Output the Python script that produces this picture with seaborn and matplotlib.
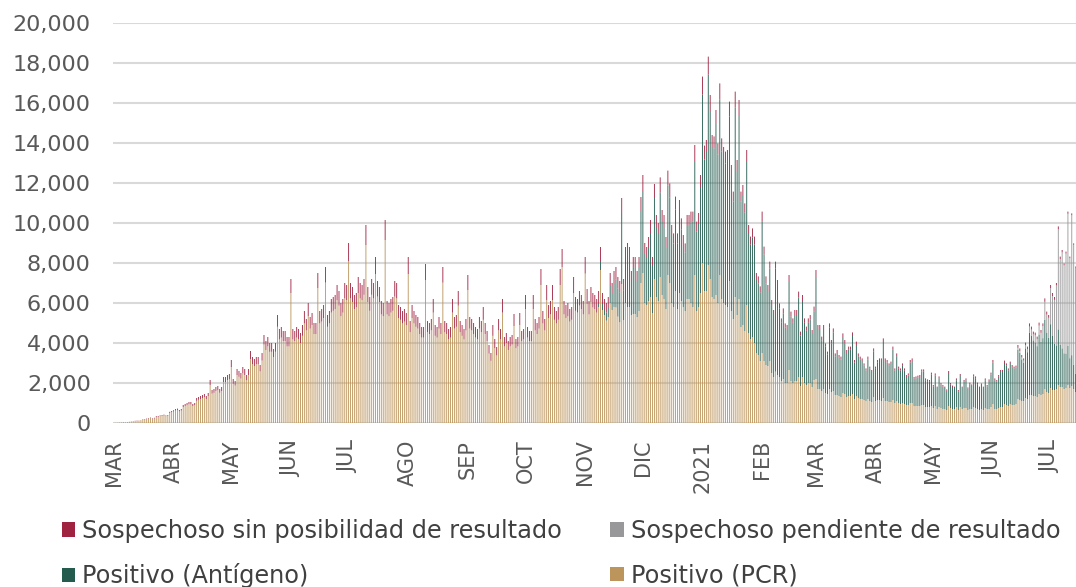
import numpy as np
import pandas as pd
import matplotlib
matplotlib.use("Agg")
import matplotlib.pyplot as plt
from matplotlib.patches import Patch
from matplotlib.ticker import FuncFormatter
import seaborn as sns

# Casos diarios por fecha de inicio de síntomas
FECHA_INICIO = "2020-03-01"
INICIO_ANTIGENO = "2020-11-08"
INICIO_PENDIENTE = "2021-06-13"

PCR = [
    10, 15, 20, 20, 25, 35, 30,
    40, 55, 65, 80, 100, 120, 110,
    130, 170, 180, 200, 230, 240, 220,
    230, 300, 310, 340, 360, 370, 340,
    360, 500, 540, 570, 620, 640, 580,
    620, 800, 850, 890, 940, 930, 850,
    890, 1110, 1160, 1200, 1250, 1290, 1200,
    1340, 1900, 1470, 1510, 1600, 1650, 1510,
    1600, 2050, 2050, 2140, 2180, 2800, 1960,
    1870, 2400, 2310, 2220, 2490, 2400, 2140,
    2400, 3200, 2940, 2850, 2940, 2940, 2580,
    3120, 3920, 3650, 3830, 3560, 3560, 3300,
    3560, 4810, 4180, 4270, 4100, 4100, 3830,
    3830, 6500, 4180, 4100, 4270, 4180, 4000,
    4360, 4980, 4630, 5340, 4720, 4900, 4450,
    4450, 6750, 4980, 5070, 5250, 7020, 4810,
    4980, 5520, 5610, 5700, 6140, 5870, 5340,
    5520, 6230, 6140, 8100, 6230, 6050, 5700,
    5790, 6500, 6230, 6140, 6410, 8900, 6050,
    5610, 6410, 6230, 7450, 6320, 6050, 5430,
    5340, 9150, 5430, 5340, 5520, 5610, 6320,
    6230, 5250, 5160, 4980, 5070, 4900, 7450,
    4540, 5250, 4980, 4810, 4720, 4450, 4270,
    4270, 7150, 4540, 4450, 4630, 5520, 4360,
    4270, 4720, 4450, 7020, 4540, 4450, 4180,
    4270, 5520, 4720, 4810, 5870, 4540, 4360,
    4180, 4630, 6650, 4720, 4630, 4450, 4270,
    4180, 4720, 4540, 5160, 4450, 4090, 3470,
    3110, 4360, 3740, 3380, 4630, 4180, 5520,
    3830, 4000, 3650, 3830, 3920, 4850, 3740,
    3830, 4900, 4090, 4180, 5700, 4270, 4090,
    4090, 5700, 4630, 4450, 4720, 6900, 4980,
    4630, 6140, 5250, 5430, 6140, 5160, 4980,
    5160, 6900, 7800, 5430, 5250, 5340, 5070,
    5160, 6500, 5610, 5520, 5870, 5700, 5430,
    7470, 5960, 5430, 6050, 5780, 5700, 5520,
    5800, 7650, 5650, 5400, 5120, 5300, 6000,
    5650, 5800, 5780, 5320, 5040, 6950, 5140,
    6000, 5800, 5800, 5400, 5450, 5450, 5300,
    5600, 7000, 7500, 6000, 5900, 6100, 6300,
    5500, 7200, 6300, 6100, 7300, 6400, 6200,
    5700, 7400, 7000, 6000, 5800, 6600, 5700,
    6500, 6100, 5800, 5600, 6200, 6200, 6000,
    5800, 7400, 5600, 5800, 6500, 8000, 6600,
    6600, 7900, 7200, 6300, 6200, 6400, 6000,
    7400, 6200, 6000, 5900, 5800, 7100, 5600,
    5200, 6300, 5400, 6200, 4800, 4900, 4600,
    5900, 4500, 4200, 4300, 4000, 3500, 3400,
    3100, 3500, 3100, 2900, 2850, 3100, 2500,
    2300, 2570, 2400, 2300, 2100, 2200, 2000,
    2000, 2650, 2100, 2000, 2100, 2100, 2300,
    1850, 2300, 2000, 1900, 2000, 2000, 1800,
    2150, 2200, 1700, 1700, 1600, 1700, 1500,
    1450, 1700, 1550, 1600, 1400, 1400, 1350,
    1300, 1500, 1450, 1300, 1350, 1350, 1450,
    1200, 1350, 1250, 1200, 1200, 1150, 1100,
    1200, 1100, 1050, 1300, 1100, 1150, 1150,
    1100, 1250, 1100, 1100, 1050, 1050, 1150,
    1000, 1100, 1000, 950, 1000, 950, 900,
    900, 1000, 1000, 850, 850, 850, 850,
    900, 900, 800, 800, 800, 850, 750,
    850, 700, 800, 750, 700, 700, 650,
    850, 750, 700, 700, 800, 650, 800,
    700, 750, 750, 650, 700, 700, 800,
    750, 700, 650, 700, 650, 750, 700,
    700, 800, 950, 700, 700, 750, 800,
    800, 950, 900, 850, 950, 900, 900,
    950, 1200, 1150, 1100, 1100, 1250, 1200,
    1400, 1400, 1350, 1350, 1300, 1450, 1400,
    1450, 1700, 1550, 1500, 1750, 1650, 1650,
    1700, 1900, 1800, 1800, 1700, 1750, 1900,
    1750, 1850, 1700, 1550,
]

SIN_RESULTADO = [
    0, 0, 0, 5, 5, 5, 5,
    5, 5, 10, 10, 10, 10, 10,
    10, 20, 20, 20, 20, 30, 20,
    30, 40, 40, 40, 40, 50, 40,
    40, 60, 60, 70, 80, 80, 70,
    80, 100, 100, 110, 110, 120, 100,
    110, 140, 140, 150, 150, 160, 150,
    160, 250, 180, 190, 200, 200, 190,
    200, 250, 250, 260, 270, 350, 240,
    230, 300, 290, 280, 310, 300, 260,
    300, 400, 360, 350, 360, 360, 320,
    380, 480, 450, 470, 440, 440, 400,
    440, 590, 520, 530, 500, 500, 470,
    470, 700, 520, 500, 530, 520, 500,
    540, 620, 570, 660, 580, 600, 550,
    550, 750, 620, 630, 650, 780, 590,
    620, 680, 690, 700, 760, 730, 660,
    680, 770, 760, 900, 770, 750, 700,
    710, 800, 770, 760, 790, 1000, 750,
    690, 790, 770, 850, 780, 750, 670,
    660, 1000, 670, 660, 680, 690, 780,
    770, 650, 640, 620, 630, 600, 850,
    560, 650, 620, 590, 580, 550, 530,
    530, 800, 560, 550, 570, 680, 540,
    530, 580, 550, 780, 560, 550, 520,
    530, 680, 580, 590, 730, 560, 540,
    520, 570, 750, 580, 570, 550, 530,
    520, 580, 560, 640, 550, 510, 430,
    390, 540, 460, 420, 570, 520, 680,
    470, 500, 450, 470, 480, 600, 460,
    470, 600, 510, 520, 700, 530, 510,
    510, 700, 570, 550, 580, 800, 620,
    570, 760, 650, 670, 760, 640, 620,
    640, 800, 900, 670, 650, 660, 630,
    640, 800, 690, 680, 730, 700, 670,
    830, 740, 670, 750, 720, 700, 680,
    600, 750, 550, 500, 480, 500, 600,
    550, 600, 620, 580, 560, 800, 560,
    600, 600, 600, 500, 550, 550, 500,
    500, 700, 800, 550, 500, 550, 650,
    450, 700, 600, 550, 750, 600, 600,
    500, 750, 700, 550, 500, 650, 500,
    600, 550, 500, 450, 550, 550, 550,
    500, 800, 500, 550, 650, 900, 700,
    600, 900, 800, 600, 600, 700, 550,
    800, 650, 600, 600, 600, 750, 550,
    500, 800, 600, 750, 500, 500, 450,
    600, 450, 400, 450, 400, 350, 350,
    300, 500, 400, 350, 300, 350, 250,
    250, 350, 300, 250, 220, 250, 200,
    200, 350, 250, 220, 250, 250, 300,
    200, 300, 220, 200, 220, 230, 200,
    250, 350, 200, 200, 180, 200, 160,
    150, 200, 170, 200, 150, 150, 140,
    140, 180, 170, 150, 160, 160, 180,
    130, 170, 150, 140, 130, 120, 110,
    140, 110, 100, 160, 110, 130, 130,
    130, 180, 130, 130, 120, 120, 160,
    110, 140, 110, 110, 120, 110, 100,
    100, 130, 130, 90, 90, 100, 100,
    110, 110, 90, 90, 90, 100, 80,
    100, 70, 90, 80, 80, 70, 70,
    100, 80, 70, 70, 90, 60, 100,
    70, 80, 90, 70, 80, 80, 100,
    90, 80, 70, 80, 70, 90, 80,
    80, 100, 130, 90, 80, 90, 100,
    100, 120, 110, 100, 120, 110, 100,
    100, 140, 130, 120, 110, 140, 130,
    160, 150, 140, 140, 130, 150, 140,
    140, 170, 150, 140, 160, 150, 140,
    120, 150, 120, 120, 100, 100, 110,
    80, 90, 70, 50,
]

ANTIGENO = [
    200, 400, 300, 300, 400, 500, 900,
    800, 1200, 1400, 1400, 1500, 3500, 1500,
    2200, 2600, 2400, 1700, 2300, 2300, 1800,
    2200, 3600, 4100, 2450, 2400, 2650, 3200,
    2350, 4050, 3500, 3350, 4230, 3650, 3600,
    3100, 4470, 4280, 3350, 3180, 4070, 3280,
    4050, 3580, 3100, 2930, 3650, 3650, 4020,
    4270, 5700, 3970, 4150, 5250, 8420, 6570,
    6950, 9520, 8400, 7500, 7530, 8550, 7430,
    8780, 7380, 7200, 7070, 7250, 8220, 6750,
    5870, 9470, 7150, 9200, 6270, 6500, 5930,
    7150, 4950, 4720, 4980, 4920, 3650, 3580,
    3430, 6570, 5320, 4080, 3750, 4620, 3400,
    3100, 5150, 4450, 3430, 2910, 3280, 2780,
    2700, 4400, 3220, 3010, 3300, 3300, 3970,
    2520, 3800, 3010, 2720, 3010, 3170, 2650,
    3420, 5100, 3000, 3000, 2540, 3000, 2320,
    1970, 3080, 2430, 2930, 1930, 2100, 1910,
    1880, 2800, 2530, 2200, 2310, 2310, 2900,
    1820, 2550, 2080, 1980, 1900, 1710, 1520,
    1980, 1610, 1500, 2270, 1610, 1870, 1950,
    2000, 2800, 2000, 1920, 1810, 1900, 2510,
    1620, 2240, 1710, 1670, 1860, 1670, 1400,
    1480, 2020, 2100, 1360, 1390, 1420, 1450,
    1670, 1670, 1340, 1290, 1260, 1570, 1070,
    1530, 1050, 1440, 1170, 1120, 1050, 960,
    1650, 1170, 1100, 1050, 1340, 940, 1550,
    1050, 1320, 1390, 1060, 1240, 1150, 1530,
    1490, 1240, 1100, 1200, 1100, 1390, 1120,
    1400, 1620, 2070, 1440, 1370, 1560, 1750,
    1750, 2050, 1970, 1780, 2000, 1890, 1820,
    1820, 2460, 2350, 2080, 1920, 2480, 2340,
    3120, 2970, 2780, 2680, 2540, 2970, 2660,
    2790, 3460, 2970, 2760, 3190, 2700, 2310,
    2180, 2780, 2100, 1930, 1780, 1720, 1960,
    1490, 1540, 1210, 920,
]

PENDIENTE = [
    0, 100, 100, 100, 100, 150, 150,
    300, 300, 300, 350, 350, 450, 450,
    600, 900, 900, 1000, 1800, 2000, 2200,
    3000, 5000, 4300, 4800, 4400, 5000, 6600,
    5000, 7000, 6000, 5300,
]

MESES = ["MAR", "ABR", "MAY", "JUN", "JUL", "AGO", "SEP", "OCT", "NOV",
         "DIC", "2021", "FEB", "MAR", "ABR", "MAY", "JUN", "JUL"]

SERIES = ["Sospechoso sin posibilidad de resultado", "Sospechoso pendiente de resultado",
          "Positivo (Antígeno)", "Positivo (PCR)"]
COLORES = ["#9F2241", "#98989A", "#235B4E", "#BC955C"]

TAMANHO_TICKS_Y = 16
TAMANHO_TICKS_X = 15
TAMANHO_LEYENDA = 17.3
GRIS_TEXTO = "#595959"


def alinear(valores, inicio, fechas):
    """Coloca una serie corta en el calendario completo, con ceros antes de su inicio."""
    arr = np.zeros(len(fechas))
    desfase = (pd.Timestamp(inicio) - fechas[0]).days
    arr[desfase:desfase + len(valores)] = valores
    return arr


def armar_tabla():
    fechas = pd.date_range(FECHA_INICIO, periods=len(PCR), freq="D")
    assert len(SIN_RESULTADO) == len(PCR)
    valores = {
        SERIES[0]: np.array(SIN_RESULTADO, dtype=float),
        SERIES[1]: alinear(PENDIENTE, INICIO_PENDIENTE, fechas),
        SERIES[2]: alinear(ANTIGENO, INICIO_ANTIGENO, fechas),
        SERIES[3]: np.array(PCR, dtype=float),
    }
    partes = []
    for nombre, casos in valores.items():
        partes.append(pd.DataFrame({"dia": np.arange(len(fechas)), "casos": casos, "serie": nombre}))
    return fechas, pd.concat(partes, ignore_index=True)


def main():
    fechas, df = armar_tabla()

    sns.set_theme(style="white")
    plt.rcParams["font.family"] = ["DejaVu Sans"]

    fig = plt.figure(figsize=(10.76, 5.87), dpi=100)
    ax = fig.add_axes([113 / 1076, (587 - 423) / 587, 963 / 1076, 400 / 587])

    sns.histplot(data=df, x="dia", weights="casos", hue="serie", hue_order=SERIES,
                 palette=COLORES, multiple="stack", discrete=True, shrink=0.45,
                 linewidth=0, alpha=1, legend=False, ax=ax)
    # barras muy finas: sin ajuste a pixel para que se vean suavizadas como en el original
    for barra in ax.patches:
        barra.set_snap(False)

    ax.set_xlim(-0.5, 500.2)
    ax.set_ylim(0, 20000)
    ax.set_yticks(range(0, 20001, 2000))
    ax.yaxis.set_major_formatter(FuncFormatter(lambda v, p: "{:,}".format(int(v))))

    inicios_mes = np.where(fechas.day == 1)[0]
    ax.set_xticks(inicios_mes)
    ax.set_xticklabels(MESES, rotation=90)

    ax.set_xlabel("")
    ax.set_ylabel("")
    ax.grid(axis="y", color="#D9D9D9", linewidth=1.5)
    ax.grid(axis="x", visible=False)
    ax.set_axisbelow(True)
    for lado in ax.spines.values():
        lado.set_visible(False)
    ax.tick_params(axis="y", length=0, pad=16, labelsize=TAMANHO_TICKS_Y, labelcolor=GRIS_TEXTO)
    ax.tick_params(axis="x", length=0, pad=12, labelsize=TAMANHO_TICKS_X, labelcolor=GRIS_TEXTO)

    orden = [0, 2, 1, 3]
    manejadores = [Patch(facecolor=COLORES[i], edgecolor="none") for i in orden]
    etiquetas = [SERIES[i] for i in orden]
    fig.legend(manejadores, etiquetas, ncol=2, loc="upper left",
               bbox_to_anchor=(62 / 1076, 1 - 519 / 587), frameon=False,
               fontsize=TAMANHO_LEYENDA, labelcolor="#404040",
               handlelength=0.55, handleheight=0.55, handletextpad=0.3,
               labelspacing=0.85, columnspacing=2.0, borderpad=0, borderaxespad=0)

    fig.savefig("out.png", dpi=100)


if __name__ == "__main__":
    main()
